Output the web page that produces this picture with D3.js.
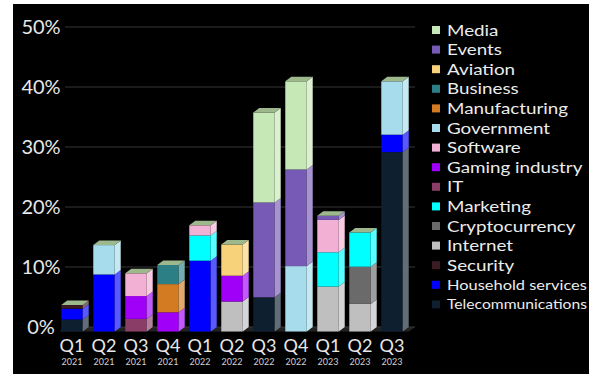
<!DOCTYPE html>
<html>
<head>
<meta charset="utf-8">
<script src="https://cdn.jsdelivr.net/npm/d3@7"></script>
<style>
  html, body { margin: 0; padding: 0; background: #fff; }
  svg { display: block; }
</style>
</head>
<body>
<svg id="chart" width="589" height="374"></svg>
<script>
// Quarter labels along the x axis
const quarters = ["Q1", "Q2", "Q3", "Q4", "Q1", "Q2", "Q3", "Q4", "Q1", "Q2", "Q3"];
const years = ["2021", "2021", "2021", "2021", "2022", "2022", "2022", "2022", "2023", "2023", "2023"];

// Sectors, stacked from the bottom up
const sectors = [
  "Telecommunications", "Household services", "Security", "Internet", "Cryptocurrency",
  "Marketing", "IT", "Gaming industry", "Software", "Government",
  "Manufacturing", "Business", "Aviation", "Events", "Media"
];
const sectorColors = [
  "#0e1f30", "#0000ff", "#3a1c22", "#bfbfbf", "#6a6a6a",
  "#00ffff", "#8a3d67", "#a100f8", "#f2b0d4", "#a6dcec",
  "#d27b22", "#2b7f85", "#f8d27a", "#7759b6", "#c6e8b6"
];

// Share of attacks per sector, % (one value per quarter)
const telecommunications = [2.0, 0, 0, 0, 0, 0, 5.7, 0, 0, 0, 29.9];
const householdServices  = [1.8, 9.5, 0, 0, 11.8, 0, 0, 0, 0, 0, 2.9];
const security           = [0.6, 0, 0, 0, 0, 0, 0, 0, 0, 0, 0];
const internet           = [0, 0, 0, 0, 0, 5.0, 0, 0, 7.5, 4.6, 0];
const cryptocurrency     = [0, 0, 0, 0, 0, 0, 0, 0, 0, 6.2, 0];
const marketing          = [0, 0, 0, 0, 4.2, 0, 0, 0, 5.7, 5.7, 0];
const it                 = [0, 0, 2.1, 0, 0, 0, 0, 0, 0, 0, 0];
const gamingIndustry     = [0, 0, 3.8, 3.2, 0, 4.3, 0, 0, 0, 0, 0];
const software           = [0, 0, 3.8, 0, 1.7, 0, 0, 0, 5.4, 0, 0];
const government         = [0, 4.9, 0, 0, 0, 0, 0, 10.9, 0, 0, 8.9];
const manufacturing      = [0, 0, 0, 4.7, 0, 0, 0, 0, 0, 0, 0];
const business           = [0, 0, 0, 3.2, 0, 0, 0, 0, 0, 0, 0];
const aviation           = [0, 0, 0, 0, 0, 5.2, 0, 0, 0, 0, 0];
const events             = [0, 0, 0, 0, 0, 0, 15.8, 16.1, 0.7, 0, 0];
const media              = [0, 0, 0, 0, 0, 0, 15.0, 14.7, 0, 0, 0];

const yTicks = [0, 10, 20, 30, 40, 50];

const seriesValues = [
  telecommunications, householdServices, security, internet, cryptocurrency,
  marketing, it, gamingIndustry, software, government,
  manufacturing, business, aviation, events, media
];

// Table rows for d3.stack
const rows = quarters.map((q, i) => {
  const row = { idx: i };
  sectors.forEach((s, k) => { row[s] = seriesValues[k][i]; });
  return row;
});
const stacked = d3.stack().keys(sectors)(rows);
const colorOf = d3.scaleOrdinal().domain(sectors).range(sectorColors);

const svg = d3.select("#chart");
const font = "Lato, 'Open Sans', sans-serif";

// Black panel
svg.append("rect").attr("x", 13).attr("y", 4).attr("width", 576).attr("height", 370).attr("fill", "#000");

// 3D depth offset of the bars and back wall
const DX = 6, DY = 4.5;

const x = d3.scaleBand().domain(d3.range(quarters.length))
  .range([56, 408]).paddingInner(0.33).paddingOuter(0.165);
const y = d3.scaleLinear().domain([0, 50]).range([331.5, 31.5]);
const bw = x.bandwidth();

const plotL = 59, plotR = 409;

// Floor
svg.append("polygon")
  .attr("points", [[plotL, y(0)], [plotR, y(0)], [plotR + DX, y(0) - DY], [plotL + DX, y(0) - DY]].map(p => p.join(",")).join(" "))
  .attr("fill", "#222");

// Gridlines on the back wall
svg.append("g").selectAll("line").data(yTicks).join("line")
  .attr("x1", plotL + DX).attr("x2", plotR + DX)
  .attr("y1", d => y(d) - DY).attr("y2", d => y(d) - DY)
  .attr("stroke", "#363636").attr("stroke-width", 1);

// Y tick labels
svg.append("g").selectAll("text").data(yTicks).join("text")
  .attr("x", 41).attr("y", d => y(d) - DY).attr("dy", "0.36em")
  .attr("text-anchor", "middle")
  .attr("font-family", font).attr("font-size", 20).attr("fill", "#e8e8e8")
  .text(d => d + "%");

// Bars: front face and right side for each stacked segment
const sideColor = c => d3.interpolateRgb(c, "#ffffff")(0.35);
const bars = svg.append("g");
stacked.forEach(layer => {
  const c = colorOf(layer.key);
  layer.forEach((d, i) => {
    if (d[1] - d[0] <= 0) return;
    const x0 = x(i), x1 = x(i) + bw;
    const yt = y(d[1]), yb = y(d[0]);
    bars.append("rect")
      .attr("x", x0).attr("y", yt).attr("width", bw).attr("height", yb - yt)
      .attr("fill", c);
    bars.append("polygon")
      .attr("points", [[x1, yt], [x1 + DX, yt - DY], [x1 + DX, yb - DY], [x1, yb]].map(p => p.join(",")).join(" "))
      .attr("fill", sideColor(c));
  });
});

// Top faces
const totals = rows.map(r => d3.sum(sectors, s => r[s]));
bars.selectAll("polygon.top").data(totals).join("polygon")
  .attr("class", "top")
  .attr("points", (t, i) => {
    const x0 = x(i), x1 = x(i) + bw, yt = y(t);
    return [[x0, yt], [x1, yt], [x1 + DX, yt - DY], [x0 + DX, yt - DY]].map(p => p.join(",")).join(" ");
  })
  .attr("fill", "#9db88d");

// X labels: quarter and year
const xl = svg.append("g");
xl.selectAll("text.q").data(quarters).join("text")
  .attr("class", "q")
  .attr("x", (d, i) => x(i) + bw / 2).attr("y", 352)
  .attr("text-anchor", "middle")
  .attr("font-family", font).attr("font-size", 18).attr("fill", "#e8e8e8")
  .text(d => d);
xl.selectAll("text.yr").data(years).join("text")
  .attr("class", "yr")
  .attr("x", (d, i) => x(i) + bw / 2).attr("y", 365)
  .attr("text-anchor", "middle")
  .attr("font-family", font).attr("font-size", 9).attr("fill", "#d0d0d0")
  .text(d => d);

// Legend, top sector first; text is widened slightly to fit the tight rows
const legendItems = sectors.map((s, k) => ({ name: s, color: sectorColors[k] })).reverse();
const lg = svg.append("g");
const maxW = 140, legendFont = 16.2, stretch = 1.16;
legendItems.forEach((item, i) => {
  const cy = 30 + i * 19.6;
  lg.append("rect").attr("x", 432).attr("y", cy - 4).attr("width", 8).attr("height", 8).attr("fill", item.color);
  const t = lg.append("text")
    .attr("transform", `translate(447,${cy}) scale(${stretch},1)`)
    .attr("dy", "0.35em")
    .attr("font-family", font).attr("font-size", legendFont).attr("fill", "#ececec")
    .text(item.name);
  const w = t.node().getComputedTextLength() * stretch;
  if (w > maxW) t.attr("font-size", legendFont * maxW / w);
});
</script>
</body>
</html>
